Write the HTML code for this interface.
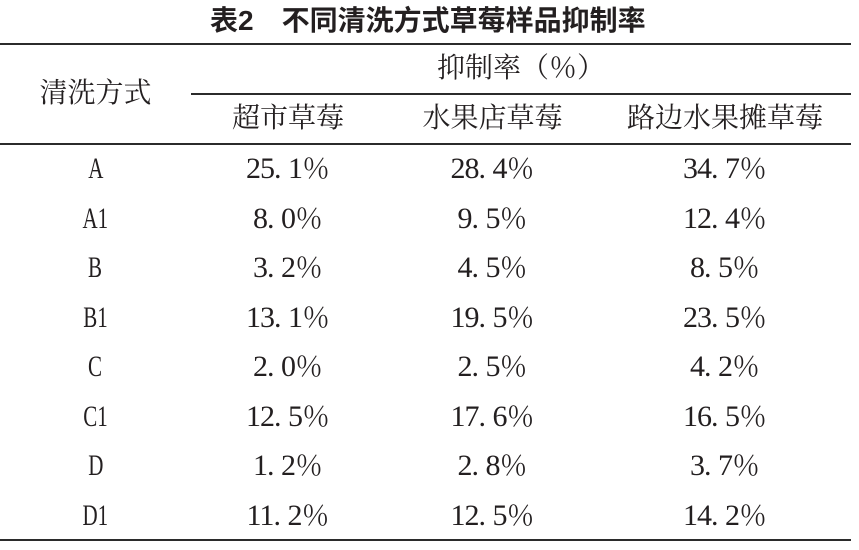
<!DOCTYPE html>
<html>
<head>
<meta charset="utf-8">
<style>
html,body{margin:0;padding:0;}
body{width:859px;height:550px;background:#fff;position:relative;overflow:hidden;color:#231f20;}
.t{position:absolute;text-align:center;font-family:"Liberation Serif","Noto Serif CJK SC","Noto Serif CJK JP","Noto Serif CJK TC","Noto Serif CJK KR","Noto Serif CJK","Source Han Serif SC",serif;font-size:28px;line-height:28px;white-space:nowrap;}
.n{font-size:30px;letter-spacing:-1px;}
.p{display:inline-block;width:14px;text-align:left;letter-spacing:0;}
.l{display:inline-block;transform:scaleX(0.7);font-size:30px;line-height:28px;}
.hr{position:absolute;background:#2b2b2b;height:2px;}
.c1{left:0;width:191px;}
.c2{left:191px;width:194px;}
.c3{left:385px;width:215px;}
.c4{left:601px;width:248px;}
.title{position:absolute;left:210px;top:7px;font-family:"Liberation Sans","Noto Sans CJK SC",sans-serif;font-weight:700;font-size:28px;line-height:28px;white-space:nowrap;color:#231f20;}
</style>
</head>
<body>
<div class="title">表2　不同清洗方式草莓样品抑制率</div>

<div class="hr" style="left:0;width:851px;top:43px;"></div>
<div class="hr" style="left:191px;width:660px;top:93px;"></div>
<div class="hr" style="left:0;width:851px;top:143px;"></div>
<div class="hr" style="left:0;width:851px;top:539px;"></div>

<div class="t" style="left:191px;width:660px;top:55px;">抑制率（％）</div>
<div class="t c1" style="top:80px;">清洗方式</div>
<div class="t c2" style="top:105px;">超市草莓</div>
<div class="t c3" style="top:105px;">水果店草莓</div>
<div class="t c4" style="top:105px;">路边水果摊草莓</div>

<!-- Row A -->
<div class="t c1" style="top:155px;"><span class="l">A</span></div>
<div class="t c2" style="top:155px;"><span class="n">25<span class="p">.</span>1</span>％</div>
<div class="t c3" style="top:155px;"><span class="n">28<span class="p">.</span>4</span>％</div>
<div class="t c4" style="top:155px;"><span class="n">34<span class="p">.</span>7</span>％</div>

<!-- Row A1 -->
<div class="t c1" style="top:204.5px;"><span class="l">A1</span></div>
<div class="t c2" style="top:204.5px;"><span class="n">8<span class="p">.</span>0</span>％</div>
<div class="t c3" style="top:204.5px;"><span class="n">9<span class="p">.</span>5</span>％</div>
<div class="t c4" style="top:204.5px;"><span class="n">12<span class="p">.</span>4</span>％</div>

<!-- Row B -->
<div class="t c1" style="top:254px;"><span class="l">B</span></div>
<div class="t c2" style="top:254px;"><span class="n">3<span class="p">.</span>2</span>％</div>
<div class="t c3" style="top:254px;"><span class="n">4<span class="p">.</span>5</span>％</div>
<div class="t c4" style="top:254px;"><span class="n">8<span class="p">.</span>5</span>％</div>

<!-- Row B1 -->
<div class="t c1" style="top:303.5px;"><span class="l">B1</span></div>
<div class="t c2" style="top:303.5px;"><span class="n">13<span class="p">.</span>1</span>％</div>
<div class="t c3" style="top:303.5px;"><span class="n">19<span class="p">.</span>5</span>％</div>
<div class="t c4" style="top:303.5px;"><span class="n">23<span class="p">.</span>5</span>％</div>

<!-- Row C -->
<div class="t c1" style="top:353px;"><span class="l">C</span></div>
<div class="t c2" style="top:353px;"><span class="n">2<span class="p">.</span>0</span>％</div>
<div class="t c3" style="top:353px;"><span class="n">2<span class="p">.</span>5</span>％</div>
<div class="t c4" style="top:353px;"><span class="n">4<span class="p">.</span>2</span>％</div>

<!-- Row C1 -->
<div class="t c1" style="top:402.5px;"><span class="l">C1</span></div>
<div class="t c2" style="top:402.5px;"><span class="n">12<span class="p">.</span>5</span>％</div>
<div class="t c3" style="top:402.5px;"><span class="n">17<span class="p">.</span>6</span>％</div>
<div class="t c4" style="top:402.5px;"><span class="n">16<span class="p">.</span>5</span>％</div>

<!-- Row D -->
<div class="t c1" style="top:452px;"><span class="l">D</span></div>
<div class="t c2" style="top:452px;"><span class="n">1<span class="p">.</span>2</span>％</div>
<div class="t c3" style="top:452px;"><span class="n">2<span class="p">.</span>8</span>％</div>
<div class="t c4" style="top:452px;"><span class="n">3<span class="p">.</span>7</span>％</div>

<!-- Row D1 -->
<div class="t c1" style="top:501.5px;"><span class="l">D1</span></div>
<div class="t c2" style="top:501.5px;"><span class="n">11<span class="p">.</span>2</span>％</div>
<div class="t c3" style="top:501.5px;"><span class="n">12<span class="p">.</span>5</span>％</div>
<div class="t c4" style="top:501.5px;"><span class="n">14<span class="p">.</span>2</span>％</div>
</body>
</html>
